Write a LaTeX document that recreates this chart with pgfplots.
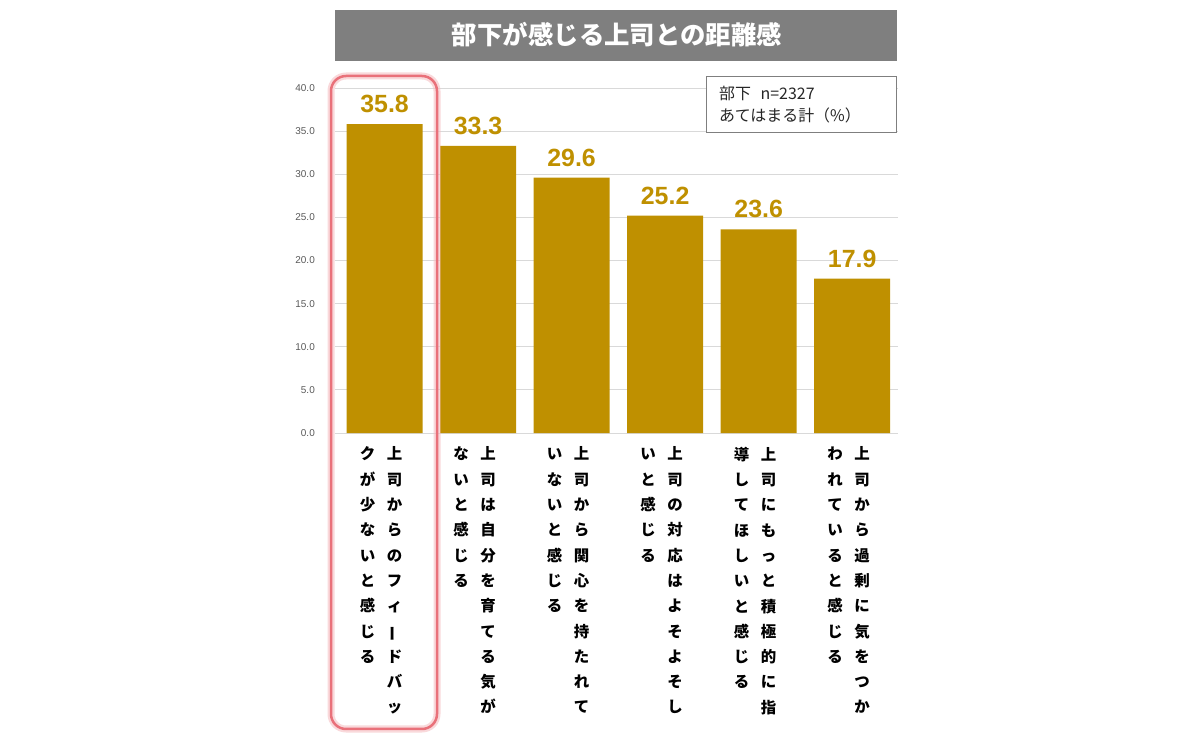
\documentclass[border=0pt]{standalone}
\usepackage{fontspec}
\setmainfont{Liberation Sans}
\newfontfamily\cjk{Noto Sans CJK JP}
\usepackage{graphicx}
\usepackage{pgfplots}
\pgfplotsset{compat=1.18}

\definecolor{gold}{RGB}{191,144,0}
\definecolor{banner}{RGB}{127,127,127}
\definecolor{gridgray}{RGB}{217,217,217}
\definecolor{tickgray}{RGB}{89,89,89}
\definecolor{hilite}{RGB}{233,113,122}

% one column of upright characters, stacked top to bottom
\makeatletter
\newcommand\vcol[1]{\vtop{\baselineskip=25.3bp\lineskip=0pt\lineskiplimit=-\maxdimen
  \@tfor\@ch:=#1\do{\hbox to 16bp{\hss\@ch\hss}}}}
\makeatother
% #1 right column (read first), #2 left column
\newcommand\lab[2]{\cjk\bfseries\fontsize{15.5}{25.3}\selectfont\vcol{#2}\hspace{11bp}\vcol{#1}}
\newcommand\cho{{\rotatebox[origin=c]{90}{ー}}}

\begin{document}
\begin{tikzpicture}
\useasboundingbox (0,0) rectangle (1200bp,741bp);

\begin{scope}[x=1bp,y=1bp]
  % title banner
  \fill[banner] (335,680) rectangle (897,731);
  \node[text=white, font=\cjk\bfseries\fontsize{25.5}{30}\selectfont] at (617,706) {部下が感じる上司との距離感};
\end{scope}

\begin{axis}[
    at={(335bp,308bp)}, anchor=south west,
    scale only axis,
    width=563bp, height=345bp,
    xmin=-0.53, xmax=5.49,
    ymin=0, ymax=40,
    ytick={0,5,...,40},
    xtick=data,
    xticklabels={
      {\lab{上司からのフィ\cho ドバッ}{クが少ないと感じる}},
      {\lab{上司は自分を育てる気が}{ないと感じる}},
      {\lab{上司から関心を持たれて}{いないと感じる}},
      {\lab{上司の対応はよそよそし}{いと感じる}},
      {\lab{上司にもっと積極的に指}{導してほしいと感じる}},
      {\lab{上司から過剰に気をつか}{われていると感じる}}
    },
    axis line style={draw=none},
    major tick style={draw=none},
    ymajorgrids=true,
    grid style={gridgray, line width=0.9bp},
    /pgf/number format/assume math mode=true,
    yticklabel style={/pgf/number format/.cd, fixed, fixed zerofill, precision=1, /tikz/.cd,
      font=\fontsize{10}{12}\selectfont, text=tickgray, anchor=east, inner sep=0pt, xshift=-20bp},
    xticklabel style={anchor=north, inner sep=0pt, yshift=-9.5bp, xshift=-3.5bp, text=black},
    ybar, bar width=76bp,
    nodes near coords,
    nodes near coords style={/pgf/number format/.cd, fixed, fixed zerofill, precision=1, /tikz/.cd,
      font=\bfseries\fontsize{25}{30}\selectfont, text=gold, anchor=south, inner sep=0pt, yshift=11bp},
    clip=false,
]
\addplot[fill=gold, draw=none] coordinates {
  (0,35.8) (1,33.3) (2,29.6) (3,25.2) (4,23.6) (5,17.9)
};
\end{axis}

\begin{scope}[x=1bp,y=1bp]
  % n box, drawn over the grid
  \draw[banner, line width=0.8bp, fill=white] (706,609) rectangle (896,665);
  \node[anchor=west, font=\cjk\fontsize{16}{22}\selectfont, text=black!85, inner sep=0] at (719,648) {部下\hspace{0.6em}n=2327};
  \node[anchor=west, font=\cjk\fontsize{16}{22}\selectfont, text=black!85, inner sep=0] at (719,626) {あてはまる計（\%）};
  % highlight round the first category
  \draw[hilite!45, opacity=0.6, line width=7bp, rounded corners=15bp] (331,12) rectangle (437,665);
  \draw[hilite, line width=2.5bp, rounded corners=15bp] (331,12) rectangle (437,665);
\end{scope}
\end{tikzpicture}
\end{document}
